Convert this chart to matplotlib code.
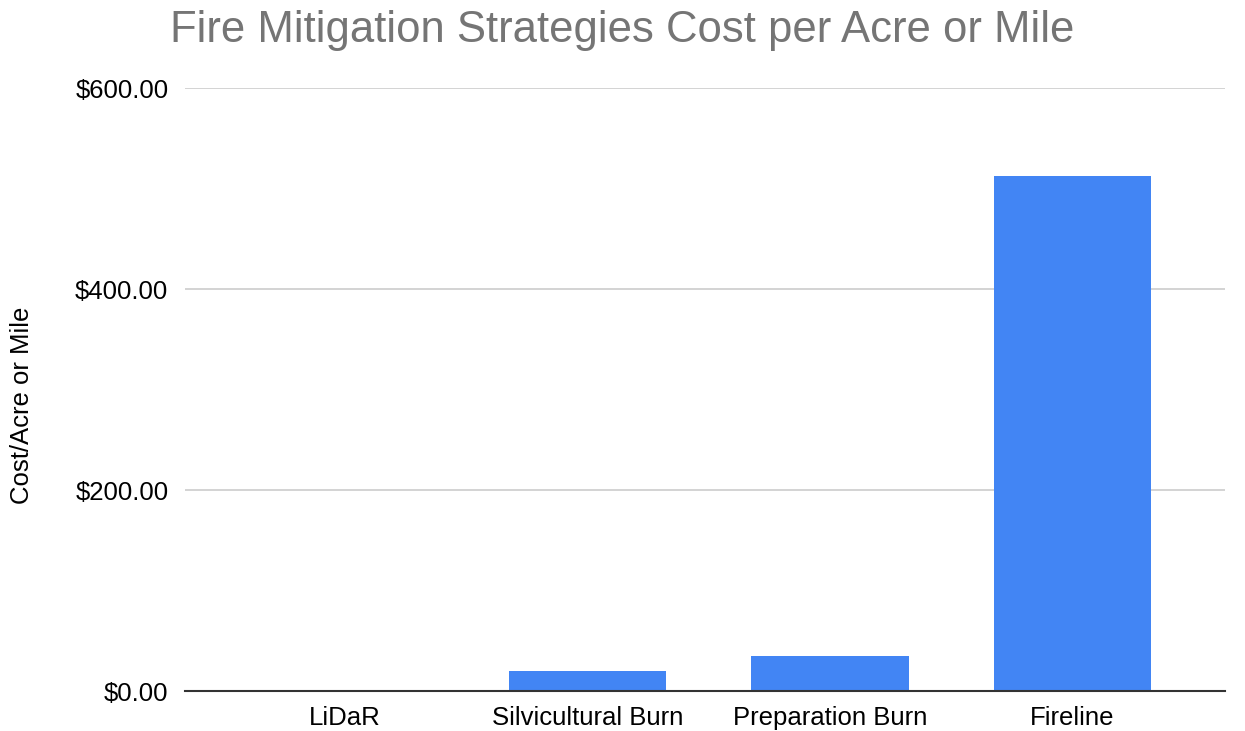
import matplotlib
matplotlib.use("Agg")
import matplotlib.pyplot as plt
from matplotlib.ticker import FuncFormatter

categories = ["LiDaR", "Silvicultural Burn", "Preparation Burn", "Fireline"]
costs = [0.0, 20.0, 35.0, 512.0]
yticks = [0, 200, 400, 600]

plt.rcParams['font.family'] = ['Liberation Sans', 'DejaVu Sans']

fig = plt.figure(figsize=(12.45, 7.31), dpi=100)
ax = fig.add_axes([0.1486, 0.0547, 0.984 - 0.1486, 0.8796 - 0.0547])

x = list(range(len(categories)))
ax.bar(x, costs, width=0.65, color="#4285F4", zorder=3)

ax.set_xlim(-0.66, 3.63)
ax.set_ylim(0, 600)
ax.set_yticks(yticks)
ax.yaxis.set_major_formatter(FuncFormatter(lambda v, p: f"${v:,.2f}"))
ax.set_xticks(x)
ax.set_xticklabels(categories)
ax.tick_params(axis='both', length=0, labelsize=18.5, colors="#000000")
ax.tick_params(axis='y', pad=12)
ax.tick_params(axis='x', pad=11)

ax.grid(axis='y', color="#cccccc", linewidth=1.2, zorder=0)
for s in ["top", "right", "left"]:
    ax.spines[s].set_visible(False)
ax.spines["bottom"].set_color("#333333")
ax.spines["bottom"].set_linewidth(1.5)
ax.spines["bottom"].set_zorder(4)

fig.text(22 / 1245, 1 - 405 / 731, "Cost/Acre or Mile", rotation=90,
         ha="center", va="center", fontsize=18.5, color="#000000")
fig.text(0.5, 0.958, "Fire Mitigation Strategies Cost per Acre or Mile",
         ha="center", va="center", fontsize=31.4, color="#757575")

fig.savefig("out.png", dpi=100)
